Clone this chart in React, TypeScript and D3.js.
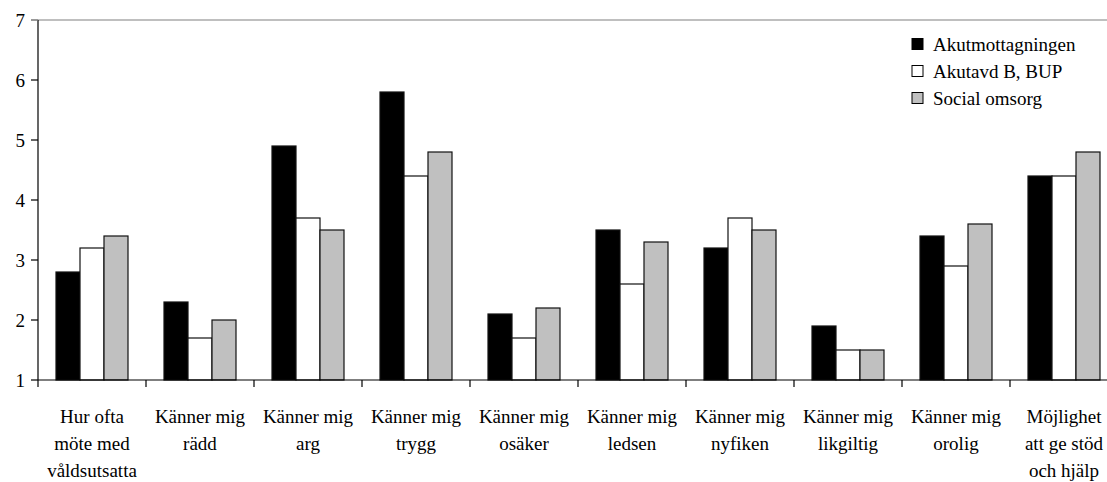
import React from "react";
import * as d3 from "d3";

const categories: string[][] = [
  ["Hur ofta", "möte med", "våldsutsatta"],
  ["Känner mig", "rädd"],
  ["Känner mig", "arg"],
  ["Känner mig", "trygg"],
  ["Känner mig", "osäker"],
  ["Känner mig", "ledsen"],
  ["Känner mig", "nyfiken"],
  ["Känner mig", "likgiltig"],
  ["Känner mig", "orolig"],
  ["Möjlighet", "att ge stöd", "och hjälp"],
];

const seriesNames = ["Akutmottagningen", "Akutavd B, BUP", "Social omsorg"];
const seriesColors = ["#000000", "#ffffff", "#c0c0c0"];

const akutmottagningen = [2.8, 2.3, 4.9, 5.8, 2.1, 3.5, 3.2, 1.9, 3.4, 4.4];
const akutavdBup = [3.2, 1.7, 3.7, 4.4, 1.7, 2.6, 3.7, 1.5, 2.9, 4.4];
const socialOmsorg = [3.4, 2.0, 3.5, 4.8, 2.2, 3.3, 3.5, 1.5, 3.6, 4.8];

const yTicks = [1, 2, 3, 4, 5, 6, 7];

const W = 1107;
const H = 482;
const left = 38;
const right = 1118;
const top = 20;
const bottom = 380;
const FONT = "Tinos, 'Liberation Serif', 'Times New Roman', 'DejaVu Serif', serif";

export default function App() {
  const series = [akutmottagningen, akutavdBup, socialOmsorg];
  const idx = categories.map((_, i) => String(i));
  const x = d3.scaleBand<string>().domain(idx).range([left, right]).padding(0);
  const bw = x.bandwidth();
  const inner = d3
    .scaleBand<string>()
    .domain(seriesNames)
    .range([bw / 6, bw - bw / 6])
    .padding(0);
  const y = d3.scaleLinear().domain([1, 7]).range([bottom, top]);

  return (
    <div style={{ position: "absolute", left: 0, top: 0, width: W, height: H, fontFamily: FONT }}>
      <svg width={W} height={H} style={{ display: "block", background: "#fff" }}>
        <rect x={0} y={0} width={W} height={H} fill="#fff" />
        <line x1={31} x2={right} y1={y(7)} y2={y(7)} stroke="#808080" strokeWidth={1.2} />
        {categories.map((_, ci) =>
          series.map((vals, si) => {
            const bx = (x(String(ci)) as number) + (inner(seriesNames[si]) as number);
            const v = vals[ci];
            return (
              <rect
                key={`${ci}-${si}`}
                x={bx}
                y={y(v)}
                width={inner.bandwidth()}
                height={y(1) - y(v)}
                fill={seriesColors[si]}
                stroke="#111"
                strokeWidth={1.2}
              />
            );
          })
        )}
        <line x1={left} x2={left} y1={top} y2={bottom} stroke="#000" strokeWidth={1.2} />
        {yTicks.map((t) => (
          <g key={t}>
            <line x1={31} x2={left} y1={y(t)} y2={y(t)} stroke={t === 7 ? "#808080" : "#000"} strokeWidth={1.2} />
            <text x={25} y={y(t)} dy="0.35em" textAnchor="end" fontSize={19} fill="#000" style={{ fontFamily: FONT }}>
              {t}
            </text>
          </g>
        ))}
        <line x1={left} x2={right} y1={bottom} y2={bottom} stroke="#000" strokeWidth={1.2} />
        {idx.map((k) => (
          <line
            key={k}
            x1={x(k) as number}
            x2={x(k) as number}
            y1={bottom}
            y2={bottom + 7}
            stroke="#000"
            strokeWidth={1.2}
          />
        ))}
        {categories.map((lines, ci) => (
          <text
            key={ci}
            x={(x(String(ci)) as number) + bw / 2}
            textAnchor="middle"
            fontSize={19}
            fill="#000"
            style={{ fontFamily: FONT }}
          >
            {lines.map((ln, li) => (
              <tspan key={li} x={(x(String(ci)) as number) + bw / 2} y={423 + li * 27}>
                {ln}
              </tspan>
            ))}
          </text>
        ))}
        {seriesNames.map((n, i) => (
          <g key={n} transform={`translate(912, ${44 + i * 27})`}>
            <rect x={0} y={-5.5} width={11} height={11} fill={seriesColors[i]} stroke="#000" strokeWidth={1} />
            <text x={21} y={0} dy="0.35em" fontSize={19} fill="#000" style={{ fontFamily: FONT }}>
              {n}
            </text>
          </g>
        ))}
      </svg>
    </div>
  );
}
